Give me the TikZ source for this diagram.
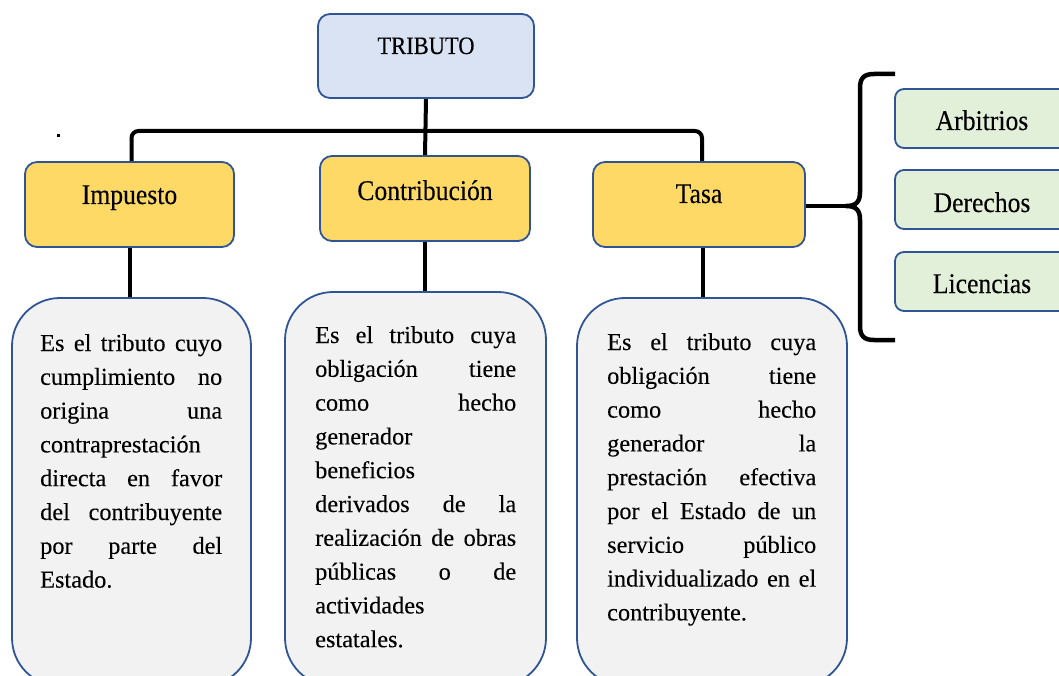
\documentclass[tikz,border=0pt]{standalone}
\usepackage{fontspec}
\setmainfont[FakeBold=0.15]{Liberation Serif}
\newfontfamily\headfont[FakeStretch=0.9,FakeBold=0.15]{Liberation Serif}
\definecolor{bordc}{HTML}{2F5597}
\definecolor{yel}{HTML}{FFD966}
\definecolor{lblue}{HTML}{DAE3F3}
\definecolor{lgreen}{HTML}{E2F0D9}
\definecolor{lgray}{HTML}{F2F2F2}
\pgfdeclarelayer{background}
\pgfsetlayers{background,main}
\newcommand\jline[1]{\makebox[\linewidth][s]{#1}}
\begin{document}
\begin{tikzpicture}[x=1pt,y=-1pt,
  box/.style={draw=bordc, line width=1.8pt, rounded corners=12pt, inner sep=0pt},
  headbox/.style={box, fill=yel, minimum height=85pt, font=\headfont\fontsize{28.5}{30}\selectfont},
  greenbox/.style={box, fill=lgreen, rounded corners=9pt, minimum width=174pt, minimum height=59pt,
     font=\headfont\fontsize{28.5}{30}\selectfont, text depth=0pt},
  descbox/.style={draw=bordc, line width=1.8pt, fill=lgray, rounded corners=48pt, inner sep=0pt},
  desctext/.style={anchor=base west, inner sep=0pt, font=\fontsize{24.3}{33.8}\selectfont},
  conn/.style={line width=4pt},
  bracestyle/.style={line width=4.5pt}]
\useasboundingbox (0,0) rectangle (1059,676);

% top
\node[box, fill=lblue, minimum width=216pt, minimum height=84pt,
  font=\headfont\fontsize{25}{27}\selectfont, text height=10pt, text depth=14pt] (trib) at (426,56) {TRIBUTO};

% headings
\node[headbox, minimum width=209pt, text height=10pt, text depth=11pt] (imp) at (129.5,204.5) {Impuesto};
\node[headbox, minimum width=210pt, text height=12pt, text depth=9pt] (con) at (425,198.5) {Contribución};
\node[headbox, minimum width=212pt, text height=9pt, text depth=12pt] (tasa) at (699,204.5) {Tasa};

% green boxes
\node[greenbox, text height=23pt] (arb) at (982,118.5) {Arbitrios};
\node[greenbox, text height=25pt] (der) at (982,199.5) {Derechos};
\node[greenbox, text height=23pt] (lic) at (982,281.5) {Licencias};

% description boxes
\node[descbox, minimum width=239pt, minimum height=388pt] (impD) at (131.5,492) {};
\node[descbox, minimum width=261pt, minimum height=394pt] (conD) at (415.5,489) {};
\node[descbox, minimum width=270pt, minimum height=388pt] (tasD) at (712,492) {};

\node[desctext] (impT) at (40,351) {\parbox[t]{182pt}{%
\jline{Es el tributo cuyo}\\
\jline{cumplimiento no}\\
\jline{origina una}\\
contraprestación\\
\jline{directa en favor}\\
\jline{del contribuyente}\\
\jline{por parte del}\\
Estado.}};

\node[desctext] (conT) at (315,343) {\parbox[t]{201pt}{%
\jline{Es el tributo cuya}\\
\jline{obligación tiene}\\
\jline{como hecho}\\
generador\\
beneficios\\
\jline{derivados de la}\\
\jline{realización de obras}\\
\jline{públicas o de}\\
actividades\\
estatales.}};

\node[desctext] (tasT) at (607,350) {\parbox[t]{209pt}{%
\jline{Es el tributo cuya}\\
\jline{obligación tiene}\\
\jline{como hecho}\\
\jline{generador la}\\
\jline{prestación efectiva}\\
\jline{por el Estado de un}\\
\jline{servicio público}\\
\jline{individualizado en el}\\
contribuyente.}};

% connectors
\coordinate (bar) at (426,131);
\coordinate (tip) at (846,206);
\begin{pgfonlayer}{background}
\draw[conn] (trib.south) -- (con.north);
\draw[conn, rounded corners=7pt] ([xshift=2pt]imp.north) -- ([xshift=2pt]imp.north |- bar)
  -- ([xshift=3pt]tasa.north |- bar) -- ([xshift=3pt]tasa.north);
\draw[conn] (imp.south) -- (imp.south |- impD.north);
\draw[conn] (con.south) -- (con.south |- conD.north);
\draw[conn] ([xshift=4pt]tasa.south) -- ([xshift=4pt]tasa.south |- tasD.north);
\draw[conn] (tasa.east |- tip) -- (tip);
\end{pgfonlayer}

% brace
\draw[bracestyle] (895,74) -- (874,74) .. controls (864,74) and (860,78) .. (860,88)
  -- (860,192) .. controls (860,202) and (856,206) .. (tip)
  .. controls (856,206) and (860,210) .. (860,220)
  -- (860,326) .. controls (860,336) and (864,340) .. (874,340) -- (895,340);

% stray dot
\fill (57,134.5) rectangle (60,137.5);
\end{tikzpicture}
\end{document}
